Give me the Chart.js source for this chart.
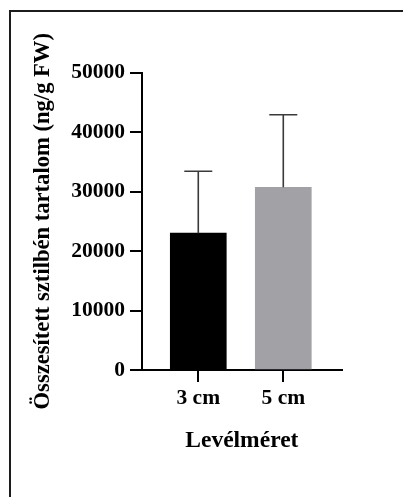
<!DOCTYPE html>
<html>
<head>
<meta charset="utf-8">
<script src="https://cdn.jsdelivr.net/npm/chart.js@4"></script>
<style>
  html, body { margin: 0; padding: 0; background: #fff; }
  #wrap { position: relative; width: 403px; height: 497px; overflow: hidden; background: #fff; }
  #frame { position: absolute; left: 9px; top: 10px; width: 420px; height: 520px; border: 2px solid #1c1c1c; box-sizing: border-box; pointer-events: none; }
  canvas { position: absolute; left: 0; top: 0; }
</style>
</head>
<body>
<div id="wrap">
  <canvas id="c" width="403" height="497"></canvas>
  <div id="frame"></div>
</div>
<script>
// ---- data ----
const categories = ['3 cm', '5 cm'];
const means = [23000, 30700];
const sdUpper = [10400, 12200];
const barColors = ['#000000', '#a2a1a6'];
const yTicks = [0, 10000, 20000, 30000, 40000, 50000];
const yTitle = 'Összesített sztilbén tartalom (ng/g FW)';
const xTitle = 'Levélméret';

const FONT = "'Liberation Serif', 'Times New Roman', serif";

const errorBars = {
  id: 'errorBars',
  afterDatasetsDraw(chart) {
    const ctx = chart.ctx;
    const xs = chart.scales.x, ys = chart.scales.y;
    ctx.save();
    ctx.strokeStyle = '#3a3a3a';
    ctx.lineWidth = 1.6;
    means.forEach((m, i) => {
      const x = xs.getPixelForValue(i);
      const yb = ys.getPixelForValue(m);
      const yt = ys.getPixelForValue(m + sdUpper[i]);
      ctx.beginPath();
      ctx.moveTo(x, yb);
      ctx.lineTo(x, yt);
      ctx.moveTo(x - 14, yt);
      ctx.lineTo(x + 14, yt);
      ctx.stroke();
    });
    ctx.restore();
  }
};

new Chart(document.getElementById('c'), {
  type: 'bar',
  data: {
    datasets: [{
      data: means.map((v, i) => ({ x: i, y: v })),
      backgroundColor: barColors,
      borderWidth: 0,
      barThickness: 56
    }]
  },
  options: {
    responsive: false,
    animation: false,
    devicePixelRatio: 1,
    layout: { padding: { left: 29.3, right: 61.3, top: 72.5, bottom: 42.2 } },
    plugins: { legend: { display: false }, tooltip: { enabled: false } },
    scales: {
      x: {
        type: 'linear',
        offset: false,
        min: -0.662,
        max: 1.687,
        afterBuildTicks: (s) => { s.ticks = categories.map((_, i) => ({ value: i })); },
        afterFit: (s) => { s.height = 84.8; },
        ticks: {
          color: '#000',
          padding: 4,
          align: 'center',
          font: { family: FONT, size: 21.5, weight: 'bold' },
          callback: (v) => categories[v] ?? ''
        },
        grid: { offset: false, drawOnChartArea: false, drawTicks: true, tickLength: 12, color: '#000', lineWidth: 2 },
        border: { display: true, color: '#000', width: 2 },
        title: {
          display: true, text: xTitle, color: '#000',
          font: { family: FONT, size: 23.5, weight: 'bold' },
          padding: { top: 16, bottom: 0 }
        }
      },
      y: {
        min: 0,
        max: 50000,
        afterBuildTicks: (s) => { s.ticks = yTicks.map(v => ({ value: v })); },
        afterFit: (s) => { s.width = 112.7; },
        ticks: {
          color: '#000',
          padding: 5,
          font: { family: FONT, size: 21.5, weight: 'bold' },
          callback: (v) => String(v)
        },
        grid: { drawOnChartArea: false, drawTicks: true, tickLength: 12, color: '#000', lineWidth: 2 },
        border: { display: true, color: '#000', width: 2 },
        title: {
          display: true, text: yTitle, color: '#000',
          font: { family: FONT, size: 22.6, weight: 'bold' },
          padding: { top: 0, bottom: 16.8 }
        }
      }
    }
  },
  plugins: [errorBars]
});
</script>
</body>
</html>
